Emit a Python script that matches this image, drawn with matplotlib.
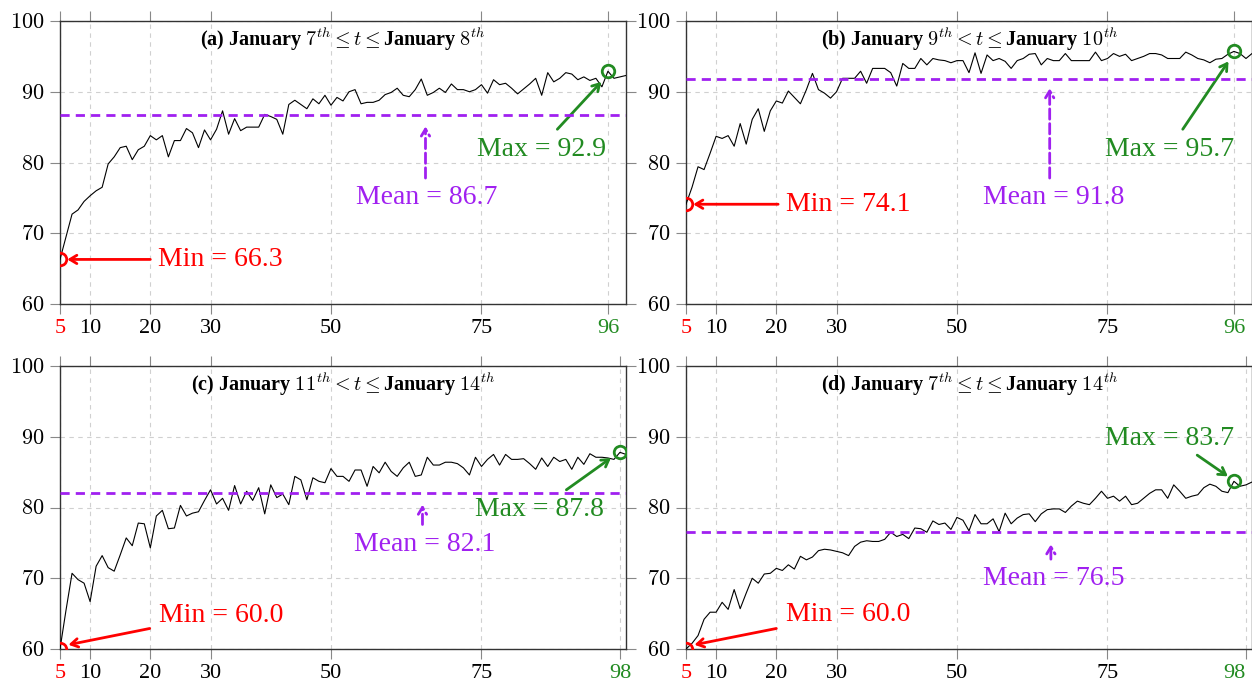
import matplotlib
matplotlib.use('Agg')
import matplotlib.pyplot as plt
import numpy as np

plt.rcParams['font.family'] = ['Liberation Serif', 'DejaVu Serif']
plt.rcParams['mathtext.fontset'] = 'cm'

# training steps (x axis) shared by all panels
steps = np.arange(5, 100)

# accuracy curves
acc_a = [66.3, 69.5, 72.7, 73.3, 74.5, 75.3, 76.0, 76.5, 79.8, 80.8,
         82.1, 82.3, 80.4, 81.8, 82.3, 83.8, 83.2, 83.8, 80.8, 83.1,
         83.1, 84.8, 84.2, 82.1, 84.6, 83.2, 84.7, 87.3, 84.0, 86.2,
         84.5, 85.0, 85.0, 85.0, 86.8, 86.5, 86.1, 84.0, 88.2, 88.8,
         88.2, 87.6, 89.0, 88.3, 89.5, 88.1, 89.2, 88.7, 90.0, 90.3,
         88.3, 88.5, 88.5, 88.8, 89.6, 89.9, 90.5, 89.5, 89.3, 90.3,
         91.8, 89.5, 89.9, 90.5, 89.9, 91.1, 90.3, 90.3, 90.0, 90.3,
         91.0, 89.8, 91.7, 91.0, 91.2, 90.5, 89.7, 90.4, 91.1, 91.9,
         89.5, 92.7, 91.4, 91.9, 92.7, 92.5, 91.7, 92.1, 91.6, 91.9,
         90.7, 92.9, 91.9, 92.1, 92.3]
acc_b = [74.1, 76.5, 79.4, 79.0, 81.3, 83.7, 83.4, 83.8, 82.3, 85.5,
         82.6, 86.1, 87.6, 84.4, 87.3, 88.7, 88.4, 90.1, 89.2, 88.3,
         90.3, 92.6, 90.3, 89.8, 89.1, 90.0, 91.9, 91.9, 91.9, 92.9,
         91.2, 93.3, 93.3, 93.3, 92.7, 90.8, 94.0, 93.3, 93.3, 94.7,
         93.8, 94.7, 94.5, 94.4, 94.1, 94.4, 94.4, 92.7, 95.5, 92.6,
         95.2, 94.4, 94.7, 94.3, 93.3, 94.4, 94.7, 95.3, 95.4, 93.8,
         94.7, 94.4, 94.4, 95.4, 94.4, 94.4, 94.4, 94.4, 95.6, 94.4,
         94.7, 95.4, 95.0, 95.3, 94.4, 94.7, 95.0, 95.4, 95.4, 95.2,
         94.7, 94.7, 94.7, 95.6, 95.2, 94.7, 94.5, 94.1, 94.6, 94.7,
         95.3, 95.7, 95.4, 94.7, 95.4]
acc_c = [60.0, 65.5, 70.7, 69.8, 69.3, 66.7, 71.7, 73.2, 71.5, 71.0,
         73.3, 75.7, 74.6, 77.8, 77.7, 74.3, 78.8, 79.6, 77.0, 77.1,
         80.3, 78.8, 79.2, 79.4, 81.0, 82.5, 80.5, 81.3, 79.6, 83.1,
         80.5, 82.3, 81.0, 82.8, 79.1, 83.2, 81.4, 81.9, 80.4, 84.4,
         83.9, 81.1, 84.2, 83.7, 83.5, 85.5, 84.4, 84.4, 83.7, 85.3,
         85.3, 83.0, 85.8, 84.9, 86.4, 85.1, 84.4, 85.6, 86.4, 84.4,
         84.6, 87.1, 86.0, 86.0, 86.4, 86.4, 86.2, 85.6, 84.6, 87.1,
         85.8, 86.8, 87.5, 86.0, 87.5, 86.8, 86.8, 86.9, 86.2, 85.4,
         87.0, 85.8, 87.1, 86.5, 86.8, 85.4, 87.1, 86.1, 87.6, 87.1,
         87.1, 87.0, 86.8, 87.8, 87.5]
acc_d = [60.0, 60.8, 61.9, 64.2, 65.2, 65.2, 66.6, 65.6, 68.4, 65.7,
         67.9, 70.0, 69.3, 70.6, 70.7, 71.4, 71.1, 71.9, 71.3, 73.1,
         72.6, 73.0, 73.9, 74.1, 74.0, 73.8, 73.6, 73.2, 74.5, 75.1,
         75.3, 75.2, 75.2, 75.5, 76.5, 75.9, 76.2, 75.6, 77.1, 77.0,
         76.5, 78.1, 77.6, 77.8, 76.9, 78.6, 78.2, 76.7, 79.0, 77.7,
         77.7, 78.4, 76.6, 79.2, 77.7, 78.5, 79.0, 79.1, 78.0, 79.1,
         79.7, 79.8, 79.8, 79.3, 80.2, 80.9, 80.6, 80.4, 81.3, 82.3,
         81.3, 81.6, 80.9, 81.6, 80.4, 80.6, 81.3, 82.0, 82.5, 82.5,
         81.3, 83.2, 82.3, 81.3, 81.6, 81.8, 82.8, 83.3, 83.0, 82.3,
         82.1, 83.7, 83.0, 83.2, 83.6]

titles = [r"(a) January $7^{th} \leq t \leq$January $8^{th}$",
          r"(b) January $9^{th} < t \leq$January $10^{th}$",
          r"(c) January $11^{th} < t \leq$January $14^{th}$",
          r"(d) January $7^{th} \leq t \leq$January $14^{th}$"]
min_vals = [66.3, 74.1, 60.0, 60.0]
min_steps = [5, 5, 5, 5]
mean_vals = [86.7, 91.8, 82.1, 76.5]
max_vals = [92.9, 95.7, 87.8, 83.7]
max_steps = [96, 96, 98, 96]
x_ticks = [[5, 10, 20, 30, 50, 75, 96], [5, 10, 20, 30, 50, 75, 96],
           [5, 10, 20, 30, 50, 75, 98], [5, 10, 20, 30, 50, 75, 98]]
y_ticks = [60, 70, 80, 90, 100]

RED = '#FF0000'
GREEN = '#228B22'
PURPLE = '#A020F0'

# where the callout texts / arrows sit (data coords): text, arrow tail, arrow head
layout = [
    dict(min_txt=(21.2, 66.3), min_arr=((20.0, 66.3), (6.2, 66.3)),
         mean_txt=(65.9, 75.0), mean_arr=((65.7, 77.8), (65.7, 85.1)),
         max_txt=(84.9, 81.9), max_arr=((87.6, 84.7), (94.9, 91.4))),
    dict(min_txt=(21.6, 74.1), min_arr=((20.3, 74.1), (6.2, 74.1)),
         mean_txt=(66.0, 75.0), mean_arr=((65.4, 77.8), (65.4, 90.5)),
         max_txt=(85.3, 81.9), max_arr=((87.5, 84.7), (95.1, 94.3))),
    dict(min_txt=(21.4, 64.7), min_arr=((19.9, 62.9), (6.4, 60.6)),
         mean_txt=(65.6, 74.7), mean_arr=((65.2, 77.6), (65.2, 80.4)),
         max_txt=(84.7, 79.7), max_arr=((89.1, 82.5), (96.5, 87.0))),
    dict(min_txt=(21.6, 64.9), min_arr=((20.0, 62.9), (6.4, 60.6)),
         mean_txt=(66.0, 70.0), mean_arr=((65.6, 72.7), (65.6, 74.8)),
         max_txt=(85.3, 89.8), max_arr=((89.9, 87.4), (95.0, 84.4))),
]

W, H = 1252, 684
fig = plt.figure(figsize=(W / 100, H / 100), dpi=100)
# axes boxes in pixels: left, top (width/height shared)
boxes = [(60, 21), (686, 21), (60, 366), (686, 366)]
aw, ah = 566, 283
series = [acc_a, acc_b, acc_c, acc_d]


def arrow(ax, tail, head, color, ls='-'):
    ax.annotate('', xy=head, xytext=tail,
                arrowprops=dict(arrowstyle='->,head_length=0.5,head_width=0.3',
                                color=color, lw=2, linestyle=ls,
                                shrinkA=0, shrinkB=0))


for i in range(4):
    left, top = boxes[i]
    ax = fig.add_axes([left / W, (H - top - ah) / H, aw / W, ah / H])
    lay = layout[i]

    ax.plot(steps, series[i], color='black', lw=0.8, zorder=3)
    ax.axhline(mean_vals[i], color=PURPLE, lw=2, dashes=(3.3, 2.2), zorder=4)
    ax.plot([min_steps[i]], [min_vals[i]], 'o', mfc='none', mec=RED, ms=9, mew=2, zorder=5)
    ax.plot([max_steps[i]], [max_vals[i]], 'o', mfc='none', mec=GREEN, ms=9, mew=2, zorder=5)

    # callouts
    arrow(ax, *lay['min_arr'], RED)
    ax.text(*lay['min_txt'], 'Min = %.1f' % min_vals[i], color=RED, fontsize=20,
            ha='left', va='center')
    arrow(ax, *lay['mean_arr'], PURPLE, ls='--')
    ax.text(*lay['mean_txt'], 'Mean = %.1f' % mean_vals[i], color=PURPLE, fontsize=20,
            ha='center', va='center')
    arrow(ax, *lay['max_arr'], GREEN)
    ax.text(*lay['max_txt'], 'Max = %.1f' % max_vals[i], color=GREEN, fontsize=20,
            ha='center', va='center')

    ax.text(0.5, 1 - 5 / ah, titles[i], transform=ax.transAxes, ha='center', va='top',
            fontsize=14.5, fontweight='bold')

    ax.set_xlim(5, 99)
    ax.set_ylim(60, 100)
    ax.set_xticks(x_ticks[i])
    ax.set_xticklabels([str(t) for t in x_ticks[i]], fontsize=16)
    ax.get_xticklabels()[0].set_color(RED)
    ax.get_xticklabels()[-1].set_color(GREEN)
    if i == 3:
        # last label sits on the figure edge
        ax.get_xticklabels()[-1].set_horizontalalignment('right')
    ax.set_yticks(y_ticks)
    ax.set_yticklabels(['$%d$' % t for t in y_ticks], fontsize=16)
    ax.tick_params(direction='out', length=7, width=0.8, color='#888888',
                   top=True, right=True, pad=4)
    ax.grid(True, color='#d0d0d0', lw=0.8, dashes=(4, 4))
    ax.set_axisbelow(True)
    for sp in ax.spines.values():
        sp.set_color('#333333')
        sp.set_linewidth(1.0)

fig.savefig('out.png', dpi=100)
